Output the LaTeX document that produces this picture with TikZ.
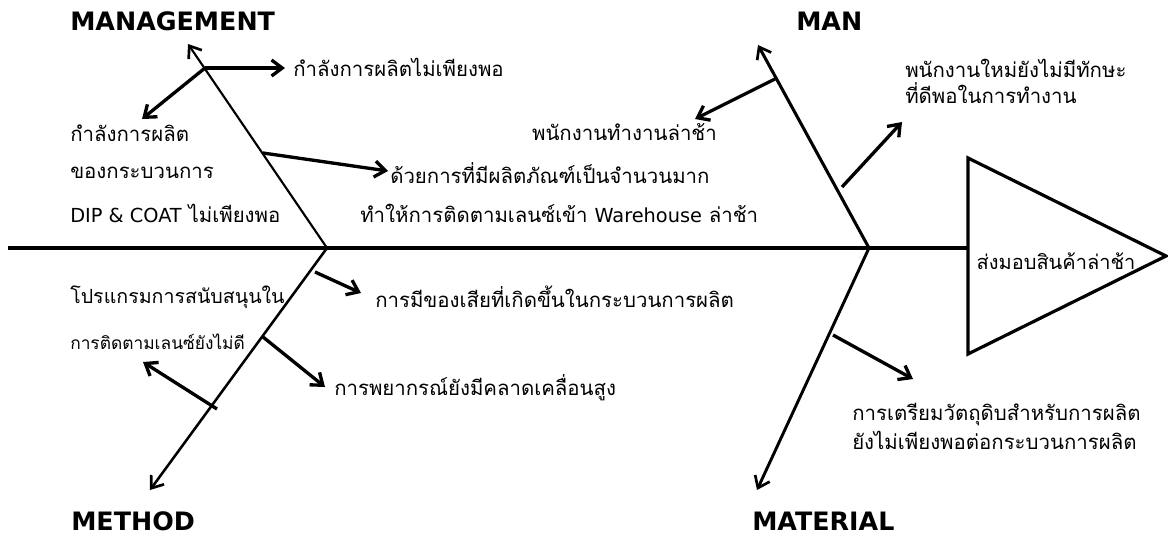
\documentclass[tikz,border=0pt]{standalone}
\usepackage{fontspec}
\setmainfont{DejaVu Sans}
\newfontfamily\thaifont[Script=Thai]{Loma}
\newfontfamily\latfont{DejaVu Sans}
\usetikzlibrary{arrows.meta}
\newcommand\latin[1]{{\latfont\fontsize{14.5}{16}\selectfont #1}}
\begin{document}
\begin{tikzpicture}[x=0.75pt,y=-0.75pt,
  spine/.style={line width=2.4pt, line join=miter},
  bone/.style={line width=1.9pt,-{Straight Barb[length=8pt,width=12pt,line width=2pt]}},
  subarrow/.style={line width=2.5pt,-{Straight Barb[length=8pt,width=12pt,line width=2.5pt]}},
  cat/.style={font=\latfont\fontsize{19}{22}\selectfont\bfseries, inner sep=0pt, anchor=west},
  lbl/.style={font=\thaifont\fontsize{15.3}{18}\selectfont, inner sep=0pt, anchor=west},
  lbls/.style={font=\thaifont\fontsize{13}{15}\selectfont, inner sep=0pt, anchor=west},
  lbr/.style={lbl, anchor=east}]
\useasboundingbox (0,0) rectangle (1168,536);

% spine and head
\coordinate (s0) at (8,248);
\coordinate (sE) at (968,248);
\coordinate (hA) at (968,158);
\coordinate (hB) at (1166,256);
\coordinate (hC) at (968,354);
\draw[spine] (s0) -- (sE);
\draw[spine] (hA) -- (hB) -- (hC) -- cycle;
\node[font=\thaifont\fontsize{15}{17}\selectfont, inner sep=0pt] (head) at (1056,261) {ส่งมอบสินค้าล่าช้า};

% junctions and bone tips
\coordinate (J1) at (327,248);
\coordinate (J2) at (869,248);
\coordinate (mgtTip) at (188,44);
\coordinate (manTip) at (758,45);
\coordinate (metTip) at (150,490);
\coordinate (matTip) at (757,490);
\draw[bone, line width=1.6pt] (J1) -- (mgtTip);
\draw[bone, line width=2.3pt] (J2) -- (manTip);
\draw[bone] (J1) -- (metTip);
\draw[bone, line width=2.2pt] (J2) -- (matTip);

% category labels
\node[cat] (MGT) at (70,21) {MANAGEMENT};
\node[cat] (MAN) at (796,21) {MAN};
\node[cat] (MET) at (71,521) {METHOD};
\node[cat] (MAT) at (752,521) {MATERIAL};

% management causes
\node[lbl] (t1) at (293,67) {กำลังการผลิตไม่เพียงพอ};
\node[lbl] (t2) at (70,133) {กำลังการผลิต};
\node[lbl] (t3) at (70,173) {ของกระบวนการ};
\node[lbl] (t4) at (70,213) {\latin{DIP \& COAT} ไม่เพียงพอ};
\node[lbl] (t5) at (390,173) {ด้วยการที่มีผลิตภัณฑ์เป็นจำนวนมาก};
\node[lbl] (t6) at (360,213) {ทำให้การติดตามเลนซ์เข้า \latin{Warehouse} ล่าช้า};
\coordinate (m1s) at (205,68);
\coordinate (m1e) at (285,68);
\coordinate (m2e) at (142,119);
\coordinate (m3s) at (263,153);
\coordinate (m3e) at (388,171);
\draw[subarrow] (m1s) -- (m1e);
\draw[subarrow] (m1s) -- (m2e);
\draw[subarrow] (m3s) -- (m3e);

% man causes
\node[lbr] (t7) at (717,132) {พนักงานทำงานล่าช้า};
\node[lbl] (t8) at (905,68) {พนักงานใหม่ยังไม่มีทักษะ};
\node[lbl] (t9) at (905,93) {ที่ดีพอในการทำงาน};
\coordinate (n1s) at (775,79);
\coordinate (n1e) at (695,119);
\coordinate (n2s) at (842,187);
\coordinate (n2e) at (902,122);
\draw[subarrow] (n1s) -- (n1e);
\draw[subarrow] (n2s) -- (n2e);

% method causes
\node[lbl] (t10) at (375,297) {การมีของเสียที่เกิดขึ้นในกระบวนการผลิต};
\node[lbl] (t11) at (334,388) {การพยากรณ์ยังมีคลาดเคลื่อนสูง};
\node[lbl, font=\thaifont\fontsize{14.7}{17}\selectfont] (t12) at (70,297) {โปรแกรมการสนับสนุนใน};
\node[lbls] (t13) at (70,342) {การติดตามเลนซ์ยังไม่ดี};
\coordinate (d1s) at (315,272);
\coordinate (d1e) at (361,293);
\coordinate (d2s) at (263,337);
\coordinate (d2e) at (325,387);
\coordinate (d3s) at (217,409);
\coordinate (d3e) at (143,362);
\draw[subarrow] (d1s) -- (d1e);
\draw[subarrow] (d2s) -- (d2e);
\draw[subarrow] (d3s) -- (d3e);

% material causes
\node[lbl] (t14) at (852,415) {การเตรียมวัตถุดิบสำหรับการผลิต};
\node[lbl] (t15) at (852,440) {ยังไม่เพียงพอต่อกระบวนการผลิต};
\coordinate (r1s) at (833,335);
\coordinate (r1e) at (913,379);
\draw[subarrow] (r1s) -- (r1e);
\end{tikzpicture}
\end{document}
